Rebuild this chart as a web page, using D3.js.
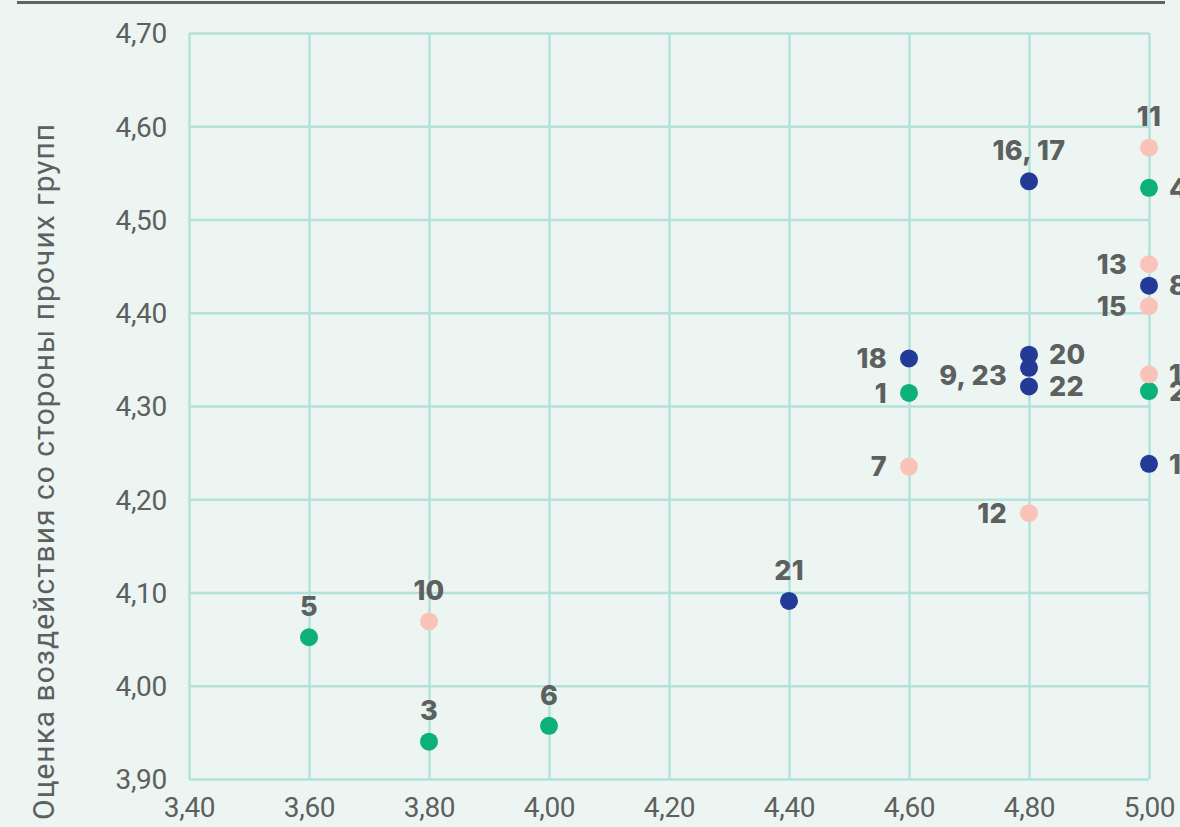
<!DOCTYPE html>
<html>
<head>
<meta charset="utf-8">
<script src="https://cdn.jsdelivr.net/npm/d3@7"></script>
<style>
  html, body { margin: 0; padding: 0; background: #ecf5f2; }
  svg { display: block; }
</style>
</head>
<body>
<svg id="chart" width="1180" height="827"></svg>
<script>
// ---- data ----
const labels  = ["1", "2", "3", "4", "5", "6", "7", "8", "9, 23", "10", "11", "12", "13", "14", "15", "16, 17", "18", "19", "20", "21", "22"];
const xValues = [4.60, 5.00, 3.80, 5.00, 3.60, 4.00, 4.60, 5.00, 4.80, 3.80, 5.00, 4.80, 5.00, 5.00, 5.00, 4.80, 4.60, 5.00, 4.80, 4.40, 4.80];
const yValues = [4.314, 4.316, 3.940, 4.534, 4.052, 3.957, 4.235, 4.429, 4.341, 4.069, 4.577, 4.185, 4.452, 4.334, 4.407, 4.541, 4.351, 4.238, 4.355, 4.091, 4.321];
const groups  = ["green", "green", "green", "green", "green", "green", "pink", "blue", "blue", "pink", "pink", "pink", "pink", "pink", "pink", "blue", "blue", "blue", "blue", "blue", "blue"];
const labelSide = ["left", "right", "top", "right", "top", "top", "left", "right", "left", "top", "top", "left", "left", "right", "left", "top", "left", "right", "right", "top", "right"];
const xTicks = [3.40, 3.60, 3.80, 4.00, 4.20, 4.40, 4.60, 4.80, 5.00];
const yTicks = [3.90, 4.00, 4.10, 4.20, 4.30, 4.40, 4.50, 4.60, 4.70];
const yTitle = "Оценка воздействия со стороны прочих групп";

const colors = { green: "#0bb07b", pink: "#f9c3b9", blue: "#233a96" };

const svg = d3.select("#chart");
const W = 1180, H = 827;
svg.append("rect").attr("width", W).attr("height", H).attr("fill", "#ecf5f2");

// top rule
svg.append("line").attr("x1", 17).attr("x2", 1165).attr("y1", 2.5).attr("y2", 2.5)
  .attr("stroke", "#5f6366").attr("stroke-width", 3);

const x = d3.scaleLinear().domain([3.40, 5.00]).range([189, 1149]);
const y = d3.scaleLinear().domain([3.90, 4.70]).range([779, 33]);

const fmt = v => d3.format(".2f")(v).replace(".", ",");
const gridColor = "#b3e2da";
const textColor = "#5c605f";

// grid via axes
const gx = svg.append("g").attr("transform", "translate(0,779)")
  .call(d3.axisBottom(x).tickValues(xTicks).tickSize(-(779 - 33)).tickFormat(fmt).tickPadding(18));
const gy = svg.append("g").attr("transform", "translate(189,0)")
  .call(d3.axisLeft(y).tickValues(yTicks).tickSize(-(1149 - 189)).tickFormat(fmt).tickPadding(22));

[gx, gy].forEach(g => {
  g.select(".domain").remove();
  g.selectAll(".tick line").attr("stroke", gridColor).attr("stroke-width", 2.5);
  g.selectAll(".tick text")
    .attr("fill", textColor)
    .style("font-family", "Roboto, 'Liberation Sans', sans-serif")
    .style("font-size", "28px")
    .style("letter-spacing", "-0.3px");
});
gx.selectAll(".tick text").attr("dy", "0.71em");
gy.selectAll(".tick text").attr("dy", "0.35em");

// y title
svg.append("text")
  .attr("transform", "translate(54,820) rotate(-90)")
  .attr("text-anchor", "start")
  .attr("fill", textColor)
  .style("font-family", "Roboto, 'Liberation Sans', sans-serif")
  .style("font-size", "30px")
  .style("letter-spacing", "1px")
  .text(yTitle);

// points
const data = labels.map((l, i) => ({ label: l, x: xValues[i], y: yValues[i], g: groups[i], side: labelSide[i] }));

svg.append("g").selectAll("circle").data(data).join("circle")
  .attr("cx", d => x(d.x)).attr("cy", d => y(d.y)).attr("r", 9)
  .attr("fill", d => colors[d.g]);

svg.append("g").selectAll("text").data(data).join("text")
  .attr("x", d => d.side === "top" ? x(d.x) : d.side === "left" ? x(d.x) - 22 : x(d.x) + 20)
  .attr("y", d => d.side === "top" ? y(d.y) - 31 : y(d.y) + (d.label === "9, 23" ? 8 : 0))
  .attr("dy", "0.36em")
  .attr("text-anchor", d => d.side === "top" ? "middle" : d.side === "left" ? "end" : "start")
  .attr("fill", textColor)
  .style("font-family", "Inter, Roboto, sans-serif")
  .style("font-weight", 800)
  .style("font-size", "27px")
  .style("letter-spacing", "0.3px")
  .text(d => d.label);
</script>
</body>
</html>
